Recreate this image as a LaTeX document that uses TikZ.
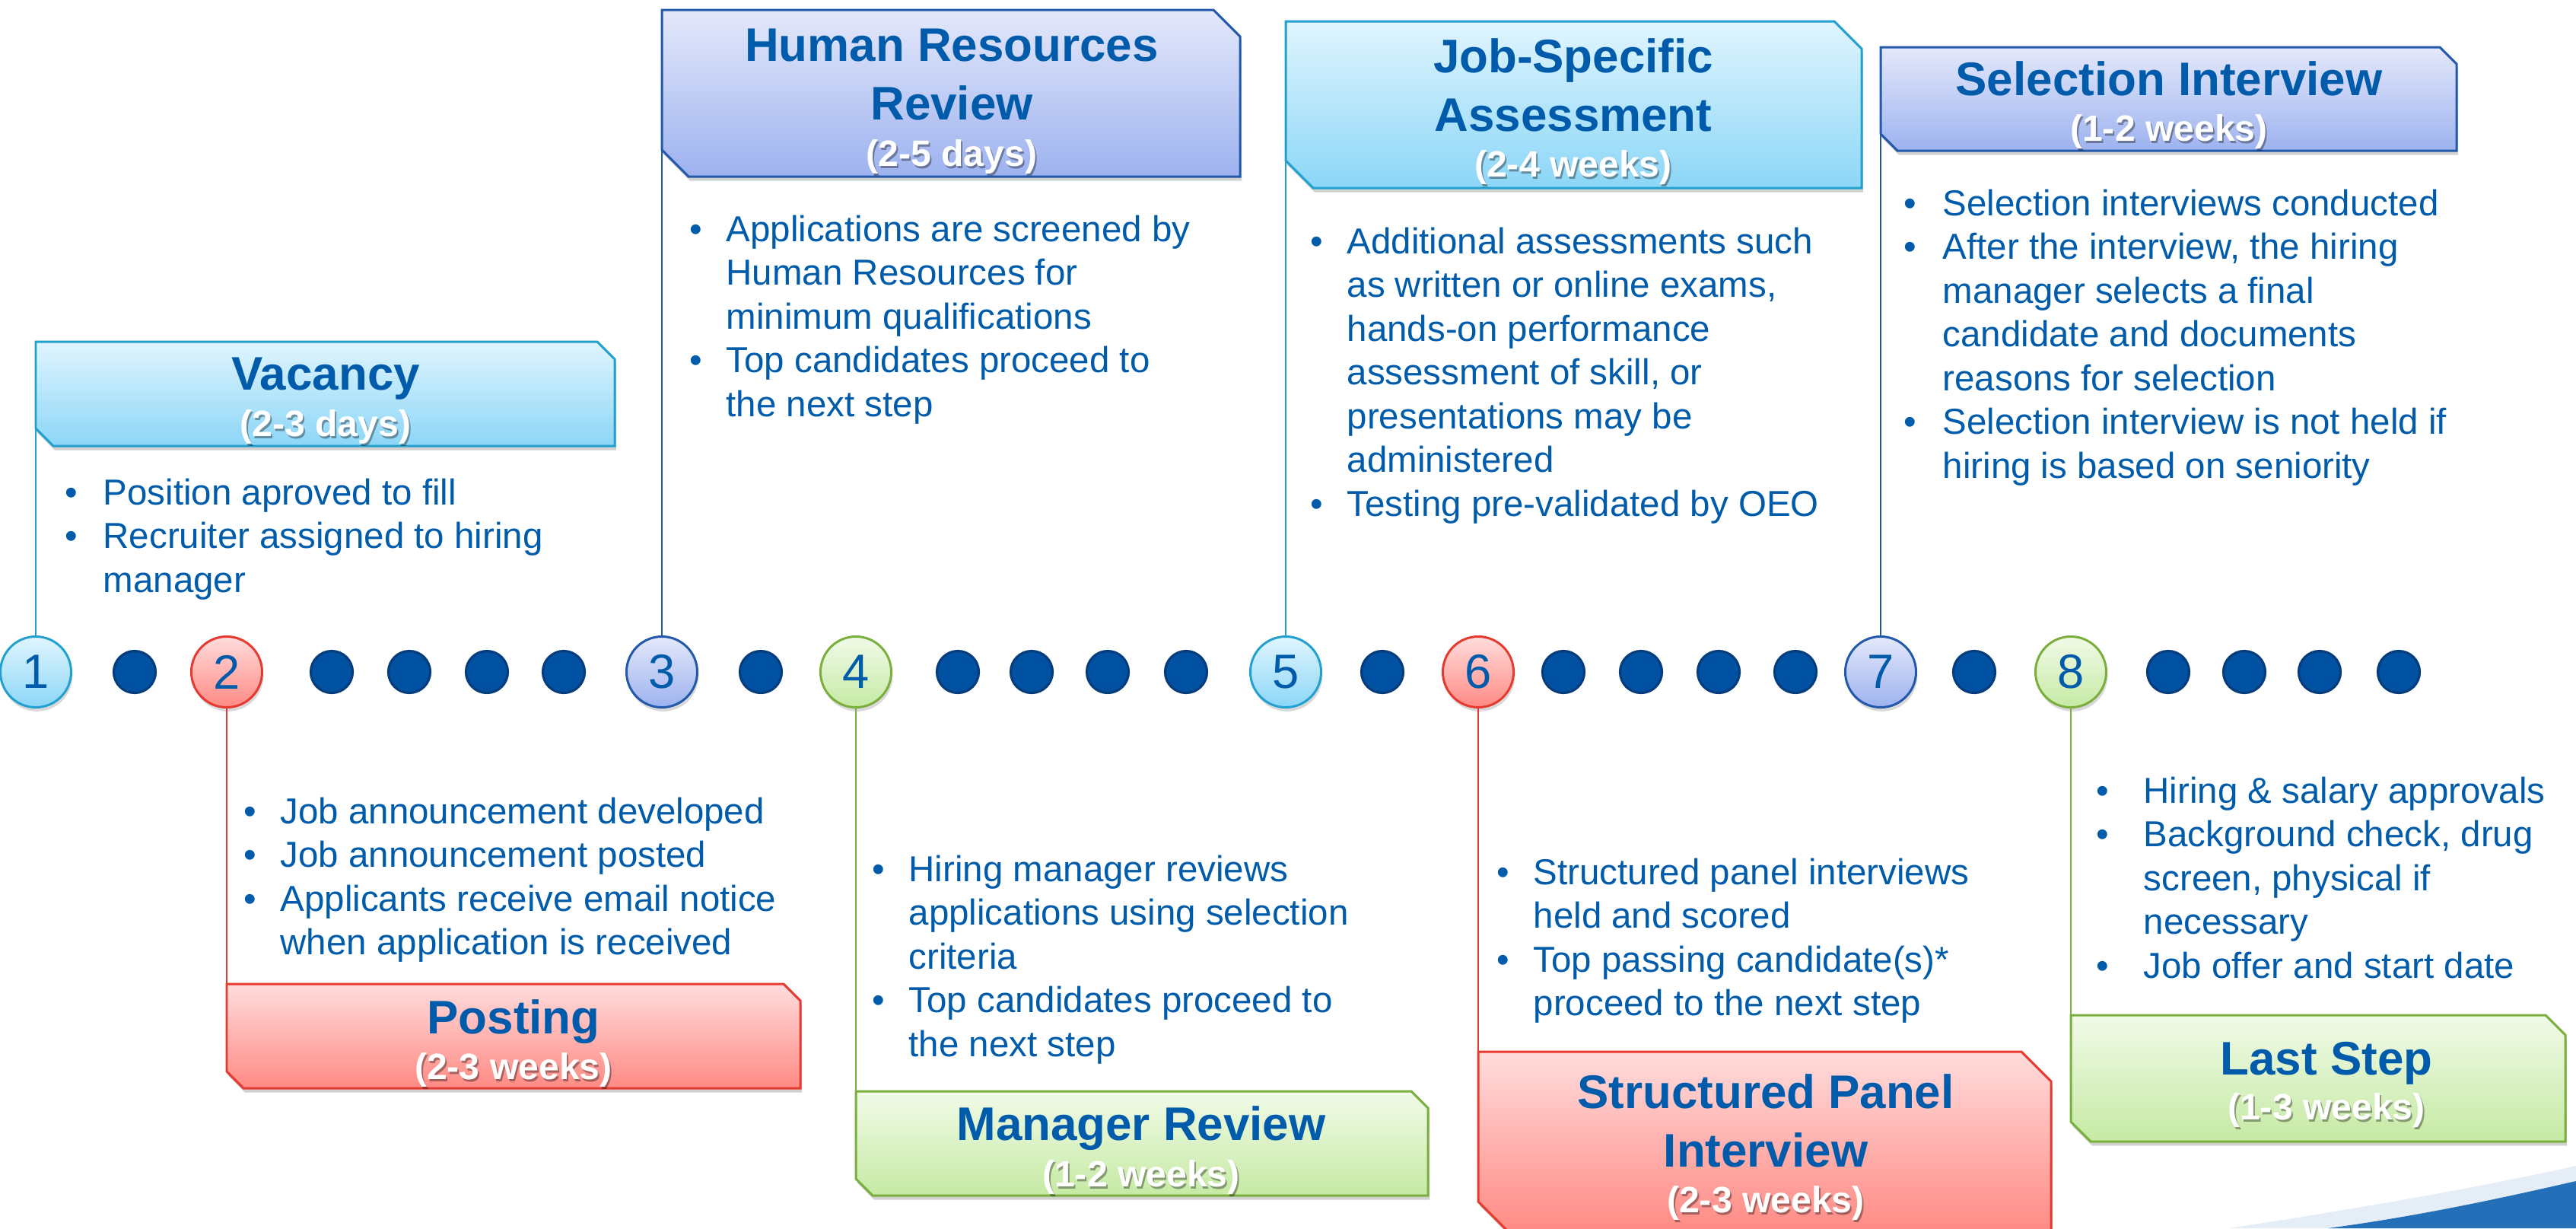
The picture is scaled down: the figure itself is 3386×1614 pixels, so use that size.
\documentclass[tikz,border=0pt]{standalone}
\usepackage{fontspec}
\setmainfont{Liberation Sans}
\usetikzlibrary{shadows}

\definecolor{ink}{HTML}{005BAA}
\definecolor{cyT}{HTML}{E0F5FE}
\definecolor{cyB}{HTML}{8CD6F7}
\definecolor{cyL}{HTML}{22A0CF}
\definecolor{rdT}{HTML}{FFDCDC}
\definecolor{rdB}{HTML}{FF8A84}
\definecolor{rdL}{HTML}{E53A2F}
\definecolor{blT}{HTML}{E4E8FA}
\definecolor{blB}{HTML}{9DB2EF}
\definecolor{blL}{HTML}{2259AA}
\definecolor{grT}{HTML}{F1FAE8}
\definecolor{grB}{HTML}{C6EAA4}
\definecolor{grL}{HTML}{7AAF3E}
\definecolor{dotF}{HTML}{0051A2}
\definecolor{dotL}{HTML}{053D7C}
\definecolor{swooshblue}{HTML}{2470B8}

% hanging bullet in front of a list line
\newlength\bulw
\setlength\bulw{0.48cm}
\newcommand\bi{\llap{\makebox[\bulw][l]{\textbullet}}}

% flag-shaped banner: name, style, left, top, right, bottom, corner cut
\newcommand\banner[7]{%
  \coordinate (#1) at (#3,-#4);
  \path[#2] (#3,-#4) -- ({#5-#7},-#4) -- (#5,{-(#4+#7)}) -- (#5,-#6)
     -- ({#3+#7},-#6) -- (#3,{-(#6-#7)}) -- cycle;}

\tikzset{
  cyanset/.style={draw=cyL, top color=cyT, bottom color=cyB},
  redset/.style={draw=rdL, top color=rdT, bottom color=rdB},
  blueset/.style={draw=blL, top color=blT, bottom color=blB},
  greenset/.style={draw=grL, top color=grT, bottom color=grB},
  flag/.style={line width=0.85pt, line join=miter,
    drop shadow={shadow xshift=0.6pt, shadow yshift=-1.6pt, opacity=0.3, fill=black!60}},
  numc/.style={circle, inner sep=0, minimum size=0.93cm, line width=0.85pt,
    text=ink, font=\fontsize{18}{18}\selectfont,
    drop shadow={shadow xshift=0.5pt, shadow yshift=-1.5pt, opacity=0.25, fill=black!60}},
  dotc/.style={circle, inner sep=0, minimum size=0.55cm, fill=dotF, draw=dotL, line width=0.9pt},
  link/.style={line width=0.7pt},
  ttl/.style={anchor=base, inner sep=0, text=ink, font=\fontsize{17.6}{21.9}\selectfont\bfseries},
  dur/.style={anchor=base, inner sep=0, text=white, font=\fontsize{13.7}{16}\selectfont\bfseries},
  durshade/.style={dur, text=black, text opacity=0.35},
  body/.style={anchor=base west, inner sep=0, text=ink, font=\fontsize{13.5}{16.36}\selectfont},
}

\begin{document}
\begin{tikzpicture}[x=0.01cm, y=0.01cm]
\useasboundingbox (0,0) rectangle (3386,-1614);

% corner swoosh
\fill[swooshblue!12] (2930,-1614) .. controls (3100,-1588) and (3250,-1562) .. (3386,-1532) -- (3386,-1614) -- cycle;
\fill[swooshblue] (3060,-1614) .. controls (3180,-1598) and (3290,-1574) .. (3386,-1552) -- (3386,-1614) -- cycle;

% timeline: numbered stops
\node[numc, cyanset]  (c1) at (47,-883)   {1};
\node[numc, redset]   (c2) at (298,-883)  {2};
\node[numc, blueset]  (c3) at (870,-883)  {3};
\node[numc, greenset] (c4) at (1125,-883) {4};
\node[numc, cyanset]  (c5) at (1690,-883) {5};
\node[numc, redset]   (c6) at (1943,-883) {6};
\node[numc, blueset]  (c7) at (2472,-883) {7};
\node[numc, greenset] (c8) at (2722,-883) {8};

% timeline: plain dots
\foreach \x [count=\i] in {177,436,538,640,741,1000,1259,1356,1456,1559,1817,2055,2157,2259,2360,2595,2850,2950,3049,3153}
  \node[dotc] (dot\i) at (\x,-883) {};

% banner anchors
\coordinate (b1) at (47,-449);
\coordinate (b2) at (298,-1293);
\coordinate (b3) at (870,-13);
\coordinate (b4) at (1125,-1434);
\coordinate (b5) at (1690,-28);
\coordinate (b6) at (1943,-1382);
\coordinate (b7) at (2472,-62);
\coordinate (b8) at (2722,-1334);

% leader lines
\draw[link, cyL] (c1.north) -- (b1);
\draw[link, rdL] (c2.south) -- (b2);
\draw[link, blL] (c3.north) -- (b3);
\draw[link, grL] (c4.south) -- (b4);
\draw[link, cyL] (c5.north) -- (b5);
\draw[link, rdL] (c6.south) -- (b6);
\draw[link, blL] (c7.north) -- (b7);
\draw[link, grL] (c8.south) -- (b8);

% banners
\banner{f1}{flag, cyanset}{47}{449}{808}{586}{23}
\banner{f2}{flag, redset}{298}{1293}{1052}{1430}{22}
\banner{f3}{flag, blueset}{870}{13}{1630}{232}{35}
\banner{f4}{flag, greenset}{1125}{1434}{1877}{1571}{22}
\banner{f5}{flag, cyanset}{1690}{28}{2447}{247}{36}
\banner{f6}{flag, redset}{1943}{1382}{2696}{1618}{39}
\banner{f7}{flag, blueset}{2472}{62}{3229}{198}{22}
\banner{f8}{flag, greenset}{2722}{1334}{3372}{1500}{26}

% stage 1
\node[ttl] (t1) at (428,-512) {Vacancy};
\node[durshade] (d1s) at (430,-576) {(2-3 days)};
\node[dur] (d1) at (428,-573) {(2-3 days)};
\node[body] (x1) at (135,-663) {\setlength\bulw{0.50cm}\begin{tabular}[t]{@{}l@{}}
\bi Position aproved to fill\\
\bi Recruiter assigned to hiring\\
manager\end{tabular}};

% stage 2
\node[ttl] (t2) at (675,-1358) {Posting};
\node[durshade] (d2s) at (677,-1421) {(2-3 weeks)};
\node[dur] (d2) at (675,-1418) {(2-3 weeks)};
\node[body] (x2) at (368,-1082) {\begin{tabular}[t]{@{}l@{}}
\bi Job announcement developed\\
\bi Job announcement posted\\
\bi Applicants receive email notice\\
when application is received\end{tabular}};

% stage 3
\node[ttl] (t3) at (1251,-80) {\begin{tabular}[t]{@{}c@{}}Human Resources\\Review\end{tabular}};
\node[durshade] (d3s) at (1253,-221) {(2-5 days)};
\node[dur] (d3) at (1251,-218) {(2-5 days)};
\node[body] (x3) at (954,-317) {\begin{tabular}[t]{@{}l@{}}
\bi Applications are screened by\\
Human Resources for\\
minimum qualifications\\
\bi Top candidates proceed to\\
the next step\end{tabular}};

% stage 4
\node[ttl] (t4) at (1500,-1498) {Manager Review};
\node[durshade] (d4s) at (1502,-1562) {(1-2 weeks)};
\node[dur] (d4) at (1500,-1559) {(1-2 weeks)};
\node[body] (x4) at (1194,-1158) {\begin{tabular}[t]{@{}l@{}}
\bi Hiring manager reviews\\
applications using selection\\
criteria\\
\bi Top candidates proceed to\\
the next step\end{tabular}};

% stage 5
\node[ttl] (t5) at (2068,-95) {\begin{tabular}[t]{@{}c@{}}Job-Specific\\Assessment\end{tabular}};
\node[durshade] (d5s) at (2070,-235) {(2-4 weeks)};
\node[dur] (d5) at (2068,-232) {(2-4 weeks)};
\node[body] (x5) at (1770,-333) {\begin{tabular}[t]{@{}l@{}}
\bi Additional assessments such\\
as written or online exams,\\
hands-on performance\\
assessment of skill, or\\
presentations may be\\
administered\\
\bi Testing pre-validated by OEO\end{tabular}};

% stage 6
\node[ttl] (t6) at (2321,-1456) {\begin{tabular}[t]{@{}c@{}}Structured Panel\\Interview\end{tabular}};
\node[durshade] (d6s) at (2323,-1596) {(2-3 weeks)};
\node[dur] (d6) at (2321,-1593) {(2-3 weeks)};
\node[body] (x6) at (2015,-1162) {\begin{tabular}[t]{@{}l@{}}
\bi Structured panel interviews\\
held and scored\\
\bi Top passing candidate(s)*\\
proceed to the next step\end{tabular}};

% stage 7
\node[ttl] (t7) at (2851,-125) {Selection Interview};
\node[durshade] (d7s) at (2853,-188) {(1-2 weeks)};
\node[dur] (d7) at (2851,-185) {(1-2 weeks)};
\node[body] (x7) at (2553,-283) {\setlength\bulw{0.51cm}\begin{tabular}[t]{@{}l@{}}
\bi Selection interviews conducted\\
\bi After the interview, the hiring\\
manager selects a final\\
candidate and documents\\
reasons for selection\\
\bi Selection interview is not held if\\
hiring is based on seniority\end{tabular}};

% stage 8
\node[ttl] (t8) at (3058,-1412) {Last Step};
\node[durshade] (d8s) at (3060,-1474) {(1-3 weeks)};
\node[dur] (d8) at (3058,-1471) {(1-3 weeks)};
\node[body] (x8) at (2817,-1055) {\setlength\bulw{0.62cm}\begin{tabular}[t]{@{}l@{}}
\bi Hiring \& salary approvals\\
\bi Background check, drug\\
screen, physical if\\
necessary\\
\bi Job offer and start date\end{tabular}};

\end{tikzpicture}
\end{document}
